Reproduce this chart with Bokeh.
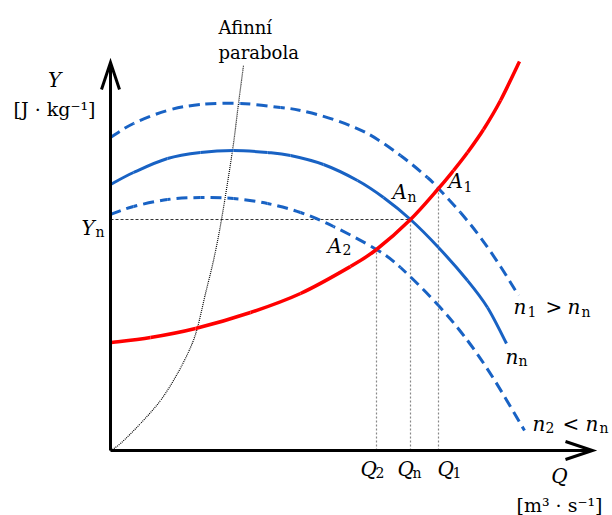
import math
from bokeh.plotting import figure
from bokeh.models import Range1d, ColumnDataSource
from bokeh.core.properties import value
from bokeh.embed import file_html
from bokeh.resources import INLINE

# Pump characteristics Y(Q) for three speeds (arbitrary units)
q_n1 = [0, 23, 57, 90, 130, 170, 190, 223, 257, 290, 317, 328, 350, 370, 390, 408]
y_n1 = [313, 327, 340, 346, 347, 343, 340, 331, 317, 295, 273, 262, 238, 213, 184, 155]

q_nn = [0, 23, 57, 90, 123, 157, 180, 213, 247, 273, 300, 328, 357, 377, 396]
y_nn = [266, 278, 292, 298, 300, 298, 295, 286, 270, 253, 231, 203, 170, 143, 107]

q_n2 = [0, 23, 57, 90, 123, 157, 190, 223, 266, 290, 328, 357, 383, 414]
y_n2 = [236, 244, 251, 253, 252, 247, 238, 224, 201, 183, 145, 110, 72, 20]

# System (pipeline) characteristic
q_sys = [0, 40, 85, 140, 190, 240, 266, 300, 328, 343, 357, 373, 390, 409]
y_sys = [108, 113, 122, 138, 157, 184, 201, 231, 262, 280, 298, 321, 350, 389]

# Affine parabola through the origin
q_aff = [0, 10, 30, 50, 67, 80, 87, 95, 103, 111, 122, 128, 133]
y_aff = [0, 7, 27, 50, 77, 103, 123, 157, 190, 231, 300, 347, 385]

# Operating points A2, An, A1
q_op = [266, 300, 328]
y_op = [201, 231, 262]

# Axis extents
q_axis = 482
y_axis = 388

BLUE = "#1862c4"
RED = "#ff0000"
SERIF = value("DejaVu Serif")


def curve_source(q, y, period=None):
    """Cubic Bezier pieces (Catmull-Rom tangents) running through every point."""
    n = len(q)
    d = dict(x0=[], y0=[], x1=[], y1=[], cx0=[], cy0=[], cx1=[], cy1=[], off=[])
    run = 0.0
    for i in range(n - 1):
        qa, ya = q[max(i - 1, 0)], y[max(i - 1, 0)]
        qb, yb = q[min(i + 2, n - 1)], y[min(i + 2, n - 1)]
        c0 = (q[i] + (q[i + 1] - qa) / 6, y[i] + (y[i + 1] - ya) / 6)
        c1 = (q[i + 1] - (qb - q[i]) / 6, y[i + 1] - (yb - y[i]) / 6)
        d["x0"].append(q[i]); d["y0"].append(y[i])
        d["x1"].append(q[i + 1]); d["y1"].append(y[i + 1])
        d["cx0"].append(c0[0]); d["cy0"].append(c0[1])
        d["cx1"].append(c1[0]); d["cy1"].append(c1[1])
        d["off"].append(int(round(run % period)) if period else 0)
        chord = math.hypot(q[i + 1] - q[i], y[i + 1] - y[i])
        net = (math.hypot(c0[0] - q[i], c0[1] - y[i]) + math.hypot(c1[0] - c0[0], c1[1] - c0[1])
               + math.hypot(q[i + 1] - c1[0], y[i + 1] - c1[1]))
        run += (chord + net) / 2
    return ColumnDataSource(d)


def smooth_line(q, y, dash=None, **kw):
    period = sum(int(v) for v in dash.split()) if dash else None
    src = curve_source(q, y, period)
    extra = dict(line_dash=dash, line_dash_offset="off") if dash else {}
    p.bezier(x0="x0", y0="y0", x1="x1", y1="y1", cx0="cx0", cy0="cy0", cx1="cx1", cy1="cy1",
             source=src, **extra, **kw)


p = figure(width=612, height=515, x_range=Range1d(-110, 502), y_range=Range1d(-65, 450),
           output_backend="svg", toolbar_location=None, min_border=0)
p.axis.visible = False
p.grid.visible = False
p.outline_line_color = None
p.background_fill_color = "white"
p.border_fill_color = "white"

# guide lines to the operating points
p.line([0, q_op[1]], [y_op[1], y_op[1]], line_color="#333333", line_width=1, line_dash="3 2")
p.segment(x0=q_op, y0=[0, 0, 0], x1=q_op, y1=y_op, line_color="#888888", line_width=1.2,
          line_dash="2 2")

# affine parabola
smooth_line(q_aff, y_aff, dash="1 1", line_color="black", line_width=1.2)

# pump curves
smooth_line(q_n1, y_n1, dash="11 6", line_color=BLUE, line_width=3)
smooth_line(q_n2, y_n2, dash="11 6", line_color=BLUE, line_width=3)
smooth_line(q_nn, y_nn, line_color=BLUE, line_width=3)

# system curve
smooth_line(q_sys, y_sys, line_color=RED, line_width=3.5)

# axes with open arrow heads
head_len, head_half = 27, 9
p.line([0, 0], [0, y_axis], line_color="black", line_width=3)
p.line([0, q_axis], [0, 0], line_color="black", line_width=3)
p.line([-head_half, 0, head_half], [y_axis - head_len, y_axis, y_axis - head_len],
       line_color="black", line_width=3, line_join="miter")
p.line([q_axis - head_len, q_axis, q_axis - head_len], [head_half, 0, -head_half],
       line_color="black", line_width=3, line_join="miter")

# text pieces: (text, anchor q, anchor y, dx px, dy px, kind)
pieces = [
    # operating points
    ("A", q_op[0], y_op[0], -49, -4, "it"), ("2", q_op[0], y_op[0], -34, 0, "sub"),
    ("A", q_op[1], y_op[1], -18, -28, "it"), ("n", q_op[1], y_op[1], -3, -23, "sub"),
    ("A", q_op[2], y_op[2], 10, -8, "it"), ("1", q_op[2], y_op[2], 25, -2, "sub"),
    # flow rates
    ("Q", q_op[0], 0, -16, 18, "it"), ("2", q_op[0], 0, -1, 22, "sub"),
    ("Q", q_op[1], 0, -13, 18, "it"), ("n", q_op[1], 0, 2, 22, "sub"),
    ("Q", q_op[2], 0, -1, 18, "it"), ("1", q_op[2], 0, 14, 22, "sub"),
    # Yn
    ("Y", 0, y_op[1], -29, 8, "it"), ("n", 0, y_op[1], -15, 12, "sub"),
    # curve labels
    ("n", q_n1[-1], y_n1[-1], -5, 11, "it"), ("1", q_n1[-1], y_n1[-1], 9, 16, "sub"),
    (">", q_n1[-1], y_n1[-1], 27, 11, "rm"),
    ("n", q_n1[-1], y_n1[-1], 49, 11, "it"), ("n", q_n1[-1], y_n1[-1], 63, 16, "sub"),
    ("n", q_nn[-1], y_nn[-1], -1, 13, "it"), ("n", q_nn[-1], y_nn[-1], 12, 17, "sub"),
    ("n", q_n2[-1], y_n2[-1], 8, -7, "it"), ("2", q_n2[-1], y_n2[-1], 21, -3, "sub"),
    ("<", q_n2[-1], y_n2[-1], 38, -7, "rm"),
    ("n", q_n2[-1], y_n2[-1], 61, -7, "it"), ("n", q_n2[-1], y_n2[-1], 75, -3, "sub"),
]

styles = {
    "it": dict(text_font_size="20px", text_font_style="italic"),
    "sub": dict(text_font_size="14px", text_font_style="normal"),
    "rm": dict(text_font_size="20px", text_font_style="normal"),
}
for kind, st in styles.items():
    rows = [r for r in pieces if r[5] == kind]
    src = ColumnDataSource(dict(
        text=[r[0] for r in rows], x=[r[1] for r in rows], y=[r[2] for r in rows],
        dx=[r[3] for r in rows], dy=[r[4] for r in rows]))
    p.text(x="x", y="y", text="text", x_offset="dx", y_offset="dy", source=src,
           text_font=SERIF, text_align="left", text_baseline="alphabetic",
           text_color="black", **st)

# axis titles
p.text(x=[0], y=[y_axis], text=["Y"], x_offset=[-56], y_offset=[17], text_font=SERIF,
       text_font_size="20px", text_font_style="italic", text_align="center",
       text_baseline="alphabetic")
p.text(x=[0], y=[y_axis], text=["[J · kg⁻¹]"], x_offset=[-56], y_offset=[46], text_font=SERIF,
       text_font_size="19px", text_align="center", text_baseline="alphabetic")
p.text(x=[q_axis], y=[0], text=["Q"], x_offset=[-33], y_offset=[25], text_font=SERIF,
       text_font_size="20px", text_font_style="italic", text_align="center",
       text_baseline="alphabetic")
p.text(x=[q_axis], y=[0], text=["[m³ · s⁻¹]"], x_offset=[-33], y_offset=[54], text_font=SERIF,
       text_font_size="19px", text_align="center", text_baseline="alphabetic")

# affine parabola caption
p.text(x=[q_aff[-1]] * 2, y=[y_aff[-1]] * 2, text=["Afinní", "parabola"],
       x_offset=[-25, -25], y_offset=[-38, -13], text_font=SERIF, text_font_size="18px",
       text_align="left", text_baseline="alphabetic")

open("out.html", "w").write(file_html(p, INLINE))
